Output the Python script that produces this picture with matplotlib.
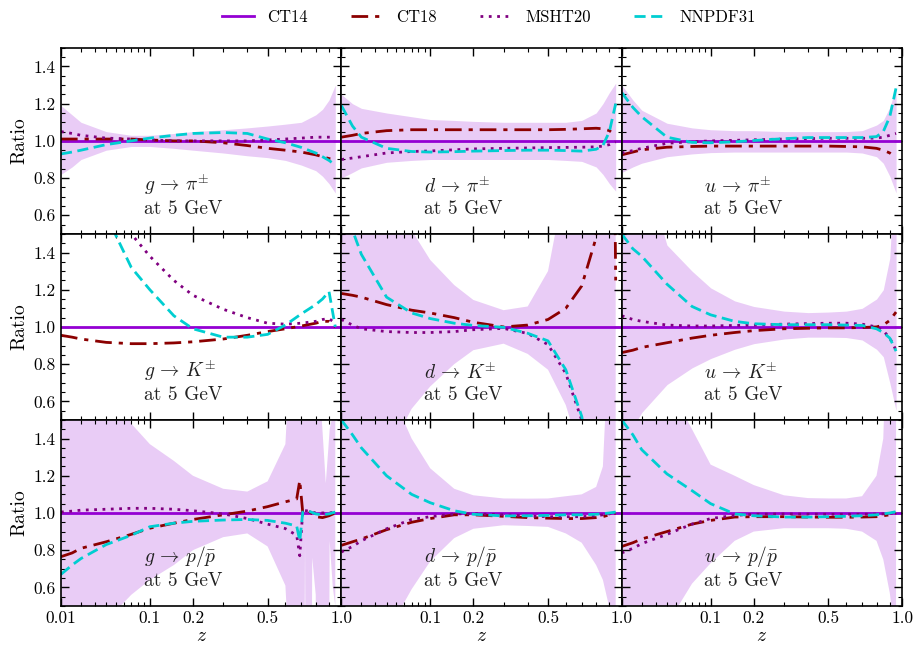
import numpy as np
import matplotlib
matplotlib.use('Agg')
import matplotlib.pyplot as plt
from matplotlib.ticker import FixedLocator, FixedFormatter, MultipleLocator

plt.rcParams['font.family'] = ['cmr10']
plt.rcParams['mathtext.fontset'] = 'cm'
plt.rcParams['axes.unicode_minus'] = False
plt.rcParams['axes.formatter.use_mathtext'] = True

# z grid shared by most panels
Z_GRID = [0.01, 0.015, 0.02, 0.04, 0.07, 0.1, 0.15, 0.2, 0.3, 0.4, 0.5, 0.6, 0.7, 0.8, 0.85, 0.9, 0.95]
# g -> p/pbar has a sharp feature near z ~ 0.7
Z_GP = [0.01, 0.015, 0.02, 0.04, 0.07, 0.1, 0.15, 0.2, 0.3, 0.4, 0.5, 0.6, 0.67, 0.69, 0.71, 0.75, 0.8, 0.85, 0.9, 0.95]
Z_GP_BAND = [0.01, 0.015, 0.02, 0.04, 0.07, 0.1, 0.15, 0.2, 0.3, 0.4, 0.5, 0.6,
             0.7, 0.715, 0.725, 0.735, 0.765, 0.775, 0.80, 0.81,
             0.835, 0.845, 0.875, 0.895, 0.905, 0.92, 0.93, 0.95]

PANELS = ['g_pi', 'd_pi', 'u_pi', 'g_K', 'd_K', 'u_K', 'g_p', 'd_p', 'u_p']
LABELS = {
    'g_pi': r'$g \,\to\, \pi^{\pm}$', 'd_pi': r'$d \,\to\, \pi^{\pm}$', 'u_pi': r'$u \,\to\, \pi^{\pm}$',
    'g_K': r'$g \,\to\, K^{\pm}$', 'd_K': r'$d \,\to\, K^{\pm}$', 'u_K': r'$u \,\to\, K^{\pm}$',
    'g_p': r'$g \,\to\, p/\bar{p}$', 'd_p': r'$d \,\to\, p/\bar{p}$', 'u_p': r'$u \,\to\, p/\bar{p}$',
}

# ratios to CT14
CT18 = {
    'g_pi': [1.01, 1.01, 1.01, 1.01, 1.01, 1.005, 1.0, 1.0, 0.99, 0.975, 0.96, 0.95, 0.94, 0.925, 0.915, 0.905, 0.90],
    'd_pi': [1.02, 1.03, 1.04, 1.055, 1.06, 1.06, 1.06, 1.06, 1.06, 1.06, 1.06, 1.062, 1.065, 1.068, 1.065, 1.055, 1.03],
    'u_pi': [0.925, 0.94, 0.952, 0.966, 0.97, 0.972, 0.972, 0.972, 0.972, 0.972, 0.972, 0.97, 0.968, 0.96, 0.95, 0.935, 0.91],
    'g_K': [0.955, 0.945, 0.935, 0.917, 0.91, 0.91, 0.914, 0.92, 0.935, 0.955, 0.975, 0.99, 1.005, 1.02, 1.03, 1.03, 1.0],
    'd_K': [1.18, 1.17, 1.16, 1.12, 1.09, 1.075, 1.05, 1.025, 1.0, 1.01, 1.04, 1.10, 1.22, 1.48, 2.5, 5.0, 1.25],
    'u_K': [0.862, 0.875, 0.89, 0.915, 0.94, 0.955, 0.97, 0.98, 0.99, 0.993, 0.995, 0.995, 0.997, 1.0, 1.01, 1.035, 1.08],
    'g_p': [0.765, 0.785, 0.81, 0.845, 0.885, 0.918, 0.945, 0.965, 0.99, 1.01, 1.034, 1.06, 1.075, 1.175, 1.0, 1.01, 0.98, 0.975, 0.985, 1.0],
    'd_p': [0.826, 0.845, 0.86, 0.91, 0.95, 0.97, 0.99, 0.99, 0.982, 0.975, 0.972, 0.97, 0.97, 0.975, 0.98, 0.99, 1.0],
    'u_p': [0.82, 0.84, 0.86, 0.90, 0.94, 0.96, 0.978, 0.98, 0.98, 0.978, 0.977, 0.977, 0.978, 0.98, 0.985, 0.99, 1.0],
}
MSHT20 = {
    'g_pi': [1.05, 1.04, 1.03, 1.015, 1.01, 1.005, 1.0, 1.0, 1.0, 1.0, 1.005, 1.01, 1.015, 1.02, 1.02, 1.02, 1.02],
    'd_pi': [0.90, 0.908, 0.915, 0.935, 0.943, 0.946, 0.952, 0.957, 0.96, 0.962, 0.964, 0.965, 0.966, 0.968, 0.972, 0.98, 0.995],
    'u_pi': [0.935, 0.948, 0.96, 0.987, 0.996, 1.0, 1.003, 1.006, 1.01, 1.012, 1.014, 1.014, 1.014, 1.015, 1.02, 1.03, 1.04],
    'g_K': [3.0, 2.6, 2.3, 1.8, 1.50, 1.38, 1.25, 1.17, 1.095, 1.05, 1.02, 1.015, 1.02, 1.03, 1.04, 1.045, 1.02],
    'd_K': [1.04, 1.01, 0.99, 0.975, 0.97, 0.97, 0.975, 0.985, 0.992, 0.965, 0.905, 0.75, 0.50, 0.0, -0.5, -1.0, -1.0],
    'u_K': [1.06, 1.04, 1.03, 1.01, 1.005, 1.005, 1.008, 1.01, 1.015, 1.018, 1.02, 1.02, 1.015, 1.0, 0.98, 0.94, 0.875],
    'g_p': [1.005, 1.01, 1.015, 1.02, 1.025, 1.025, 1.02, 1.012, 0.995, 0.97, 0.94, 0.916, 0.88, 0.77, 1.015, 1.01, 1.0, 1.0, 1.0, 1.005],
    'd_p': [0.79, 0.82, 0.85, 0.915, 0.965, 0.98, 0.995, 0.996, 0.99, 0.984, 0.98, 0.98, 0.98, 0.985, 0.99, 0.995, 1.005],
    'u_p': [0.785, 0.81, 0.835, 0.885, 0.94, 0.97, 0.987, 0.993, 0.995, 0.994, 0.993, 0.993, 0.993, 0.994, 0.995, 0.997, 1.002],
}
NNPDF31 = {
    'g_pi': [0.93, 0.94, 0.95, 0.98, 1.0, 1.015, 1.03, 1.04, 1.045, 1.04, 1.01, 0.99, 0.965, 0.935, 0.915, 0.895, 0.87],
    'd_pi': [1.19, 1.08, 1.02, 0.96, 0.943, 0.94, 0.942, 0.945, 0.948, 0.95, 0.95, 0.948, 0.945, 0.955, 0.975, 1.05, 1.2],
    'u_pi': [1.26, 1.18, 1.13, 1.02, 0.992, 0.99, 0.995, 1.002, 1.012, 1.018, 1.018, 1.018, 1.018, 1.023, 1.05, 1.13, 1.285],
    'g_K': [3.0, 2.6, 2.3, 1.6, 1.32, 1.20, 1.06, 0.99, 0.945, 0.945, 0.96, 1.01, 1.07, 1.12, 1.15, 1.19, 1.0],
    'd_K': [1.75, 1.52, 1.39, 1.16, 1.075, 1.045, 1.02, 1.008, 0.998, 0.966, 0.925, 0.77, 0.52, 0.0, -0.5, -1.0, -1.0],
    'u_K': [1.50, 1.42, 1.38, 1.23, 1.11, 1.065, 1.03, 1.017, 1.012, 1.012, 1.012, 1.01, 1.008, 0.99, 0.97, 0.94, 0.87],
    'g_p': [0.67, 0.72, 0.755, 0.83, 0.88, 0.926, 0.945, 0.955, 0.962, 0.965, 0.96, 0.945, 0.93, 0.85, 1.005, 1.01, 0.995, 0.99, 0.995, 1.005],
    'd_p': [1.50, 1.42, 1.35, 1.20, 1.10, 1.055, 1.012, 0.993, 0.984, 0.985, 0.987, 0.99, 0.99, 0.993, 0.996, 1.0, 1.005],
    'u_p': [1.50, 1.42, 1.34, 1.21, 1.12, 1.05, 0.995, 0.985, 0.978, 0.978, 0.98, 0.982, 0.985, 0.99, 0.995, 1.0, 1.007],
}
# CT14 uncertainty band (upper / lower), no band shown for g -> K
BAND_HI = {
    'g_pi': [1.19, 1.14, 1.10, 1.05, 1.03, 1.03, 1.04, 1.05, 1.06, 1.07, 1.08, 1.09, 1.10, 1.14, 1.17, 1.22, 1.30],
    'd_pi': [1.25, 1.20, 1.175, 1.15, 1.13, 1.115, 1.11, 1.105, 1.10, 1.10, 1.10, 1.10, 1.11, 1.15, 1.20, 1.26, 1.31],
    'u_pi': [1.30, 1.22, 1.165, 1.095, 1.07, 1.06, 1.055, 1.055, 1.05, 1.05, 1.05, 1.05, 1.055, 1.085, 1.11, 1.18, 1.29],
    'g_K': None,
    'd_K': [3.0, 3.0, 2.5, 2.0, 1.52, 1.36, 1.225, 1.145, 1.09, 1.11, 1.30, 1.8, 2.5, 3.0, 3.0, 3.0, 3.0],
    'u_K': [3.0, 2.5, 1.9, 1.44, 1.30, 1.21, 1.14, 1.11, 1.085, 1.077, 1.08, 1.085, 1.10, 1.15, 1.20, 1.37, 2.0],
    'g_p': [3.0, 3.0, 2.5, 1.8, 1.48, 1.37, 1.28, 1.20, 1.13, 1.115, 1.17, 1.37,
            3.0, 3.0, 3.0, 3.0, 3.0, 3.0, 3.0, 3.0,
            3.0, 1.5, 1.16, 1.35, 1.45, 1.5, 3.0, 3.0],
    'd_p': [3.0, 3.0, 3.0, 1.7, 1.40, 1.24, 1.13, 1.095, 1.078, 1.077, 1.078, 1.09, 1.10, 1.14, 1.25, 2.0, 3.0],
    'u_p': [3.0, 3.0, 3.0, 1.7, 1.45, 1.26, 1.2, 1.15, 1.095, 1.08, 1.078, 1.078, 1.09, 1.2, 1.40, 2.5, 3.0],
}
BAND_LO = {
    'g_pi': [0.82, 0.86, 0.90, 0.95, 0.97, 0.97, 0.96, 0.95, 0.935, 0.92, 0.91, 0.895, 0.87, 0.84, 0.81, 0.77, 0.72],
    'd_pi': [0.80, 0.83, 0.855, 0.885, 0.895, 0.9, 0.9, 0.9, 0.9, 0.9, 0.9, 0.895, 0.89, 0.86, 0.82, 0.77, 0.73],
    'u_pi': [0.83, 0.86, 0.88, 0.915, 0.93, 0.937, 0.94, 0.94, 0.94, 0.94, 0.94, 0.94, 0.935, 0.915, 0.88, 0.81, 0.72],
    'g_K': None,
    'd_K': [-1.0, -1.0, 0.0, 0.3, 0.56, 0.68, 0.80, 0.875, 0.91, 0.855, 0.77, 0.58, 0.3, -1.0, -1.0, -1.0, -1.0],
    'u_K': [0.35, 0.46, 0.54, 0.69, 0.78, 0.83, 0.88, 0.91, 0.935, 0.945, 0.945, 0.943, 0.93, 0.88, 0.84, 0.70, 0.55],
    'g_p': [-1.0, -1.0, 0.0, 0.42, 0.56, 0.64, 0.72, 0.80, 0.87, 0.89, 0.82, 0.61,
            -1.0, -1.0, 0.85, -1.0, -1.0, 0.76, 0.56, -1.0,
            -1.0, -1.0, -1.0, -1.0, 0.85, 0.7, 0.6, 0.5],
    'd_p': [-1.0, -1.0, 0.0, 0.35, 0.59, 0.74, 0.865, 0.915, 0.934, 0.93, 0.925, 0.89, 0.84, 0.72, 0.64, 0.49, 0.2],
    'u_p': [-1.0, -1.0, 0.0, 0.4, 0.62, 0.73, 0.85, 0.9, 0.918, 0.918, 0.918, 0.915, 0.9, 0.85, 0.75, 0.57, 0.3],
}

C_CT14 = '#9400D3'
C_CT18 = '#8B0000'
C_MSHT = '#800080'
C_NNPDF = '#00CED1'
LS_CT18 = (0, (6, 2.5, 1.5, 2.5))
LS_MSHT = (0, (1, 2))
LS_NNPDF = (0, (4, 2))

fig, axes = plt.subplots(3, 3, figsize=(9.14, 6.47), dpi=100, sharey=True)
fig.subplots_adjust(left=0.0667, right=0.987, top=0.926, bottom=0.0634, wspace=0, hspace=0)

major_x = [0.01, 0.1, 0.2, 0.5, 1.0]
minor_x = [0.02, 0.03, 0.04, 0.05, 0.06, 0.07, 0.08, 0.09, 0.3, 0.4, 0.6, 0.7, 0.8, 0.9]

for idx, key in enumerate(PANELS):
    row, col = idx // 3, idx % 3
    ax = axes[row, col]
    # cube-root z axis
    ax.set_xscale('function', functions=(np.cbrt, lambda u: u ** 3))
    ax.set_xlim(0.01, 1.0)
    ax.set_ylim(0.5, 1.5)

    zl = Z_GP if key == 'g_p' else Z_GRID
    zb = Z_GP_BAND if key == 'g_p' else Z_GRID

    if BAND_HI[key] is not None:
        ax.fill_between(zb, BAND_LO[key], BAND_HI[key], color=C_CT14, alpha=0.2, lw=0)
    ax.axhline(1.0, color=C_CT14, lw=2.0)
    ax.plot(zl, CT18[key], color=C_CT18, lw=2.0, ls=LS_CT18)
    ax.plot(zl, MSHT20[key], color=C_MSHT, lw=2.0, ls=LS_MSHT)
    ax.plot(zl, NNPDF31[key], color=C_NNPDF, lw=2.0, ls=LS_NNPDF)

    ax.text(0.295, 0.085, LABELS[key] + '\nat 5 GeV', transform=ax.transAxes,
            ha='left', va='bottom', fontsize=14, linespacing=1.2, color='#222222')

    ax.xaxis.set_major_locator(FixedLocator(major_x))
    ax.xaxis.set_minor_locator(FixedLocator(minor_x))
    if col == 0:
        ax.xaxis.set_major_formatter(FixedFormatter(['0.01', '0.1', '0.2', '0.5', '1.0']))
    else:
        ax.xaxis.set_major_formatter(FixedFormatter(['', '0.1', '0.2', '0.5', '1.0']))
    ax.xaxis.set_minor_formatter(FixedFormatter([''] * len(minor_x)))
    ax.yaxis.set_major_locator(FixedLocator([0.6, 0.8, 1.0, 1.2, 1.4]))
    ax.yaxis.set_minor_locator(MultipleLocator(0.05))
    ax.yaxis.set_major_formatter(FixedFormatter(['0.6', '0.8', '1.0', '1.2', '1.4']))

    ax.tick_params(which='both', direction='in', top=True, right=True, labelsize=12.5)
    ax.tick_params(which='major', length=6, width=1.0)
    ax.tick_params(which='minor', length=3, width=0.8)
    for sp in ax.spines.values():
        sp.set_linewidth(1.2)

    if row < 2:
        ax.tick_params(labelbottom=False)
    else:
        ax.set_xlabel(r'$z$', fontsize=14, labelpad=1)
    if col == 0:
        ax.set_ylabel('Ratio', fontsize=14)
    else:
        ax.tick_params(labelleft=False)

handles = [
    plt.Line2D([], [], color=C_CT14, lw=2.0),
    plt.Line2D([], [], color=C_CT18, lw=2.0, ls=LS_CT18),
    plt.Line2D([], [], color=C_MSHT, lw=2.0, ls=LS_MSHT),
    plt.Line2D([], [], color=C_NNPDF, lw=2.0, ls=LS_NNPDF),
]
fig.legend(handles, ['CT14', 'CT18', 'MSHT20', 'NNPDF31'], loc='upper center',
           bbox_to_anchor=(0.535, 1.008), ncol=4, frameon=False, fontsize=12,
           handlelength=1.9, columnspacing=2.6)

fig.savefig('out.png', dpi=100)
